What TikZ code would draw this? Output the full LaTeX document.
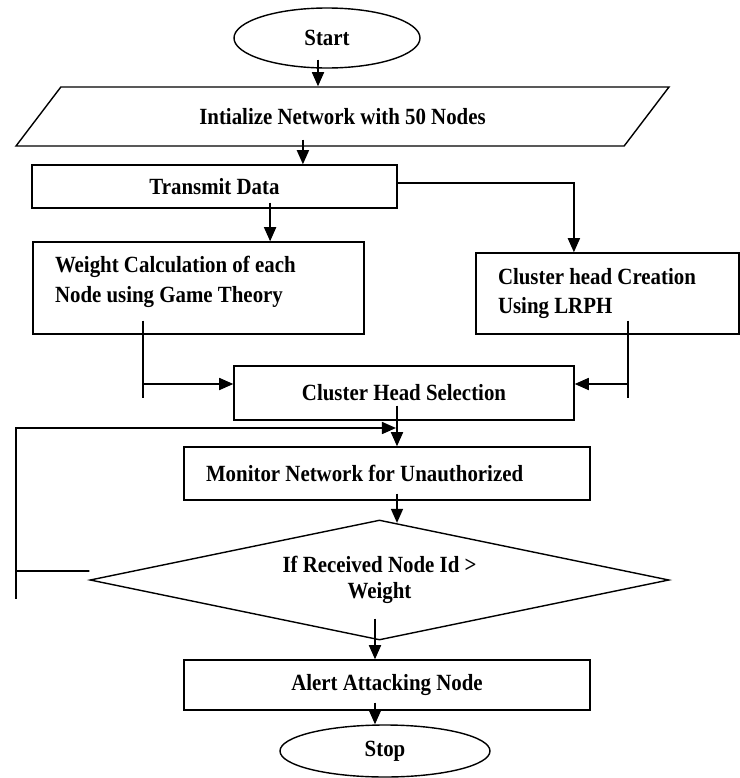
\documentclass[tikz,border=0pt]{standalone}
\usepackage{fontspec}
\setmainfont{Liberation Serif}[FakeStretch=0.9]
\usetikzlibrary{arrows.meta,positioning,shapes.geometric,calc}
\tikzset{
  caja/.style={draw,line width=1pt,rectangle,align=center,inner sep=0pt,
               font=\fontsize{16.5}{21}\selectfont\bfseries},
  cajai/.style={caja,align=flush left,inner xsep=5.5mm},
  terminal/.style={caja,ellipse},
  datos/.style={caja,trapezium,trapezium left angle=20,trapezium right angle=160,
                trapezium stretches body},
  decision/.style={caja,diamond,aspect=4.825},
  flecha/.style={-{Triangle[length=10pt,width=8.5pt]},line width=1.3pt},
  linea/.style={line width=1.1pt},
}
\begin{document}
\begin{tikzpicture}[x=1cm,y=1cm]
\useasboundingbox (0,0) rectangle (18.5,-19.45);

\node[terminal,minimum width=4.65cm,minimum height=1.5cm] (inicio) at (8.175,-0.95) {Start};
\node[datos,minimum width=16.325cm,minimum height=1.475cm] (red) at (8.5625,-2.9125)
  {Intialize Network with 50 Nodes};
\node[caja,minimum width=9.125cm,minimum height=1.075cm] (transmitir) at (5.3625,-4.6625) {Transmit Data};
\node[cajai,text width=7.175cm,minimum height=2.3cm] (peso) at (4.9625,-7.2)
  {Weight Calculation of each\\Node using Game Theory\\[-9pt]\mbox{}};
\node[cajai,text width=5.475cm,minimum height=2.025cm] (creacion) at (15.1875,-7.3375)
  {Cluster head Creation\\Using LRPH};
\node[caja,minimum width=8.5cm,minimum height=1.35cm] (seleccion) at (10.1,-9.825) {Cluster Head Selection};
\node[cajai,text width=9.05cm,minimum height=1.325cm] (monitor) at (9.675,-11.8375)
  {Monitor Network for Unauthorized};
\node[decision,minimum width=14.475cm,minimum height=3cm] (cond) at (9.4875,-14.5)
  {If Received Node Id >\\[-3pt]Weight};
\node[caja,minimum width=10.15cm,minimum height=1.25cm] (alerta) at (9.675,-17.125) {Alert Attacking Node};
\node[terminal,minimum width=5.25cm,minimum height=1.3cm] (fin) at (9.625,-18.775) {Stop};

% flujo principal
\draw[flecha] ([xshift=-2.25mm,yshift=2.25mm]inicio.south) -- ([xshift=-2.25mm]inicio.south |- red.north);
\draw[flecha] ([xshift=-9.9mm,yshift=1.75mm]red.south) -- ([xshift=-9.9mm]red.south |- transmitir.north);
\draw[flecha] ([xshift=13.9mm,yshift=1.5mm]transmitir.south) -- ([xshift=13.9mm]transmitir.south |- peso.north);
\draw[flecha] ([yshift=0.9mm]transmitir.east) -| ([xshift=-8.4mm]creacion.north);

% entradas a la seleccion
\coordinate (pizq) at (3.575,-9.6);
\coordinate (pder) at (15.7,-9.6);
\draw[linea] ([yshift=3.5mm]peso.south -| pizq) -- ([yshift=-3.5mm]pizq);
\draw[flecha] (pizq) -- (pizq -| seleccion.west);
\draw[linea] ([yshift=3.5mm]creacion.south -| pder) -- ([yshift=-3.5mm]pder);
\draw[flecha] (pder) -- (pder -| seleccion.east);

\draw[flecha] ([xshift=-1.75mm,yshift=3.75mm]seleccion.south) -- ([xshift=-1.75mm]seleccion.south |- monitor.north);
\draw[flecha] ([xshift=2.5mm,yshift=1.75mm]monitor.south) -- ([xshift=2.5mm,yshift=-0.9mm]monitor.south |- cond.north);

% lazo de retorno
\coordinate (bucle) at (0.4,-14.275);
\coordinate (retorno) at (9.9,-10.7);
\draw[flecha] ([yshift=2.25mm]cond.west) -- (bucle) |- (retorno);
\draw[linea] (bucle) -- ++(0,-0.7);

\draw[flecha] ([xshift=-3mm,yshift=5.5mm]alerta.north |- cond.south) -- ([xshift=-3mm]alerta.north);
\draw[flecha] ([xshift=-3mm,yshift=2mm]alerta.south) -- ([xshift=-3mm]alerta.south |- fin.north);

\end{tikzpicture}
\end{document}
